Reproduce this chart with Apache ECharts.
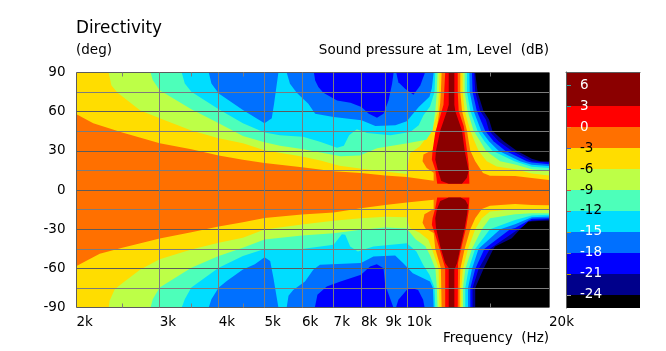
<!DOCTYPE html>
<html>
<head>
<meta charset="utf-8">
<script src="https://cdn.jsdelivr.net/npm/echarts@6/dist/echarts.min.js"></script>
</head>
<body style="margin:0;background:#fff">
<div id="main" style="width:666px;height:351px"></div>
<script type="text/javascript">
// axis values, frequency in kHz and angle in deg
var freqLines = [2, 3, 4, 5, 6, 7, 8, 9, 10, 20];
var freqMinorTicks = [2.5, 3.5, 4.5, 15];
var angleLabels = [-90, -60, -30, 0, 30, 60, 90];
var levelLabels = [6, 3, 0, -3, -6, -9, -12, -15, -18, -21, -24];
var levelEdges = [7.86, 3, 0, -3, -6, -9, -12, -15, -18, -21, -24, -25.86];

// contours, each point is [kHz, deg]
// T/B = upper/lower half, L/R = left/right of the 12k lobe
var below0TL = [[2,58],[2.17,51.1],[2.5,44],[3,35.9],[3.5,31.3],[4,26.4],[4.5,23.1],[5,20.6],[6,17.5],[7,14.3],[8,13],[9,11.2],[10,10],[11.4,7],[11.4,13.2],[11.02,16.9],[10.8,22.1],[10.85,27.2],[11.4,31],[11.53,43.7],[11.68,56.4],[11.77,66.6],[11.81,75],[11.85,90],[2,90]];
var below0TR = [[12.98,90],[12.98,75],[13.09,60.5],[13.41,45.3],[13.52,37.4],[13.63,30],[13.96,22],[14.5,13],[15,10.9],[16.95,10.7],[18.39,9.2],[20,7.6],[20,90]];
var below0BL = [[2,-58.2],[2.24,-48.8],[2.5,-44.2],[3,-37.1],[3.5,-32.3],[4,-28],[4.5,-24.7],[5,-21.4],[6,-18.8],[7,-17.3],[8,-14],[9,-11.5],[10,-9.5],[11.4,-7.5],[11.4,-14.5],[10.9,-18.5],[10.8,-25],[10.95,-29.5],[11.4,-33],[11.49,-45],[11.81,-60],[11.83,-75],[11.85,-90],[2,-90]];
var below0BR = [[12.94,-90],[12.94,-75],[12.98,-60.5],[13.26,-45],[13.63,-30],[13.96,-21.6],[14.42,-14.5],[15,-12],[16.95,-10.7],[18.39,-11.4],[20,-11.7],[20,-90]];

var belowM3TL = [[2.34,90],[2.37,80.3],[2.44,74.7],[2.73,60.8],[3,54.9],[3.5,45.5],[4,39.7],[4.5,35.9],[5,30.5],[6,25.7],[6.6,22.4],[7.2,18.6],[8.35,15.5],[10,12.2],[10.1,23],[10.15,28.2],[10.65,33.3],[11,40],[11.3,45.3],[11.64,60.5],[11.7,75],[11.73,90]];
var belowM3TR = [[13.13,90],[13.13,75],[13.26,60.5],[13.63,45.3],[13.91,37.4],[14.19,30],[14.77,22],[15.5,18],[16.95,15.8],[18.39,12.7],[20,11.2],[20,90]];
var belowM3BL = [[2.34,-90],[2.35,-84.9],[2.41,-76],[2.5,-71.4],[2.73,-60.8],[3,-53.1],[3.5,-45.5],[4,-40.4],[4.5,-36.6],[5,-30.3],[6,-26.4],[7,-23.5],[8,-21.6],[9,-20.5],[10,-20.8],[10.14,-29],[10.65,-32.8],[11.1,-38],[11.3,-45],[11.68,-60],[11.7,-75],[11.73,-90]];
var belowM3BR = [[13.04,-90],[13.04,-75],[13.15,-60.5],[13.48,-45],[13.96,-30],[14.42,-21.6],[15,-16.5],[16.95,-14.5],[20,-15.3],[20,-90]];

var belowM6TL = [[2.87,90],[2.9,84.2],[3,76.5],[3.5,61.8],[4,51.1],[4.5,41.4],[5,36.6],[5.39,33.8],[6,31.5],[7.24,25.8],[7.96,26.5],[8.65,32],[10.03,35.9],[11,38.4],[11.35,46],[11.49,60.5],[11.58,75],[11.62,90]];
var belowM6TR = [[13.26,90],[13.26,75],[13.45,60.5],[13.85,45.3],[14.3,37.4],[14.7,30],[15.77,22],[16.95,19.6],[18.39,15.8],[20,14.8],[20,90]];
var belowM6BL = [[2.87,-90],[2.9,-83.6],[3,-74.7],[3.5,-59.5],[4,-50.6],[4.5,-44.2],[5,-37.9],[6,-34.9],[7,-33.1],[8,-30.5],[9,-28.7],[10,-29.5],[10.45,-38],[10.95,-43],[11.2,-50],[11.5,-60.5],[11.58,-75],[11.62,-90]];
var belowM6BR = [[13.15,-90],[13.15,-75],[13.3,-60.5],[13.74,-45],[14.42,-30],[15,-21.6],[16.95,-18.6],[18.39,-17.8],[20,-17.8],[20,-90]];

var belowM9TL = [[3.34,90],[3.39,81.6],[3.5,75.3],[4,61.8],[4.5,51.1],[5,44],[5.39,42],[6.03,40.7],[6.55,36.9],[7.12,32.3],[7.36,33.8],[7.55,42],[7.84,46.5],[8.24,43.7],[9.23,42],[10.17,44.5],[10.6,49.6],[10.85,57.2],[11.2,64],[11.45,75],[11.49,90]];
var belowM9TR = [[13.41,90],[13.41,75],[13.63,60.5],[14.12,45.3],[14.6,37.4],[15.18,30],[16.9,22],[18.39,17.8],[20,16.8],[20,90]];
var belowM9BL = [[3.34,-90],[3.39,-83.6],[3.5,-74.7],[4,-59.5],[4.5,-50.6],[5,-45.1],[6,-45.1],[7,-42],[7.29,-33.8],[7.41,-34.3],[7.59,-43.3],[7.88,-47.1],[8.5,-43.3],[10,-40.7],[10.48,-47.1],[10.83,-57.3],[11.17,-65],[11.45,-75],[11.49,-90]];
var belowM9BR = [[13.3,-90],[13.3,-75],[13.52,-60.5],[13.96,-45],[15,-30],[16.95,-22.9],[18.39,-19.6],[20,-19],[20,-90]];

var belowM12TA = [[3.81,90],[3.86,81.6],[4,74],[4.5,61.3],[5,51.1],[5.18,54.9],[5.24,66.4],[5.31,81.6],[5.35,90]];
var belowM12TB = [[5.57,90],[5.66,81.4],[5.85,74.5],[6.19,66.1],[6.4,58.5],[7,56],[8.02,53.4],[8.58,49.1],[9.46,49.6],[10,52.6],[10.6,63.6],[11.17,71.4],[11.3,78],[11.4,90]];
var belowM12TR = [[13.57,90],[13.59,75],[13.85,60.5],[14.37,45.3],[14.93,37.4],[15.64,30],[17.37,22],[18.39,19.3],[20,18.3],[20,90]];
var belowM12BA = [[3.81,-90],[3.86,-83.6],[4,-74.7],[4.16,-69.7],[4.5,-60.8],[4.77,-56.9],[5,-51.5],[5.14,-54.4],[5.22,-67.1],[5.35,-90]];
var belowM12BB = [[5.57,-90],[5.62,-81],[5.75,-76.5],[6.09,-70.1],[6.34,-61],[6.55,-57.3],[8,-56],[8.5,-50.9],[9.45,-50.2],[9.82,-56],[10.3,-63.7],[11.2,-70],[11.36,-75],[11.4,-90]];
var belowM12BR = [[13.48,-90],[13.48,-75],[13.74,-60.5],[14.19,-45],[15.77,-30],[16.95,-26.2],[18.39,-20.8],[20,-20.3],[20,-90]];

var belowM15TA = [[6.36,90],[6.4,83.9],[6.5,78.8],[6.66,74.5],[7.12,68.6],[7.6,66.9],[8.02,63.6],[8.31,58.5],[8.65,55.4],[8.93,58.5],[9.15,68.6],[9.31,81.4],[9.38,90]];
var belowM15TB = [[9.5,90],[9.6,82.6],[9.92,77.5],[10.33,73],[10.68,80],[10.93,90]];
var belowM15TR = [[13.74,90],[13.78,75],[14.07,60.5],[14.65,45.3],[15.26,37.4],[16.16,30],[17.94,22],[18.39,21],[20,19.8],[20,90]];
var belowM15BA = [[6.39,-90],[6.47,-80.3],[6.77,-73.9],[7.24,-70.1],[8,-65],[8.36,-58.6],[8.64,-56.8],[8.93,-59.9],[9,-72.6],[9.37,-90]];
var belowM15BB = [[9.49,-90],[9.6,-84.1],[10.05,-75.7],[10.27,-75.2],[10.57,-76.5],[10.83,-84.1],[10.91,-90]];
var belowM15BR = [[13.63,-90],[13.63,-75],[13.96,-60.5],[14.6,-45],[16.55,-30],[16.95,-29.2],[18.39,-22.1],[20,-21.6],[20,-90]];

var belowM18TR = [[13.89,90],[13.96,75],[14.3,60.5],[14.7,54],[14.93,45.3],[15.64,37.4],[16.68,30],[18.39,22],[20,21],[20,90]];
var belowM18BR = [[13.78,-90],[13.78,-75],[14.19,-60.5],[15,-45],[16.95,-31.8],[18.39,-23.4],[20,-22.4],[20,-90]];

var belowM21TR = [[13.96,90],[14.12,75],[14.53,60.5],[14.93,54],[15.18,45.3],[16.03,37.4],[17.09,30],[18.39,23.9],[19.15,22],[20,21.8],[20,90]];
var belowM21BR = [[13.96,-90],[13.96,-75],[14.53,-60.5],[15.26,-45],[15.38,-43.2],[16.68,-36.9],[17.37,-30],[18.09,-24.1],[20,-23.4],[20,-90]];

var above3T = [[12.06,90],[12,75],[11.96,65.3],[11.77,56.4],[11.49,44],[11.34,30],[11.3,23.4],[11.49,15.5],[11.6,4.8],[13.57,4.8],[13.52,20],[13.41,30],[13.2,48.8],[12.88,60.5],[12.82,75],[12.82,90]];
var above3B = [[11.6,-5.8],[11.49,-14],[11.34,-21.6],[11.3,-26.7],[11.49,-34.3],[11.77,-47],[12.06,-59.7],[12.06,-90],[12.82,-90],[12.84,-56],[13.09,-42],[13.35,-29],[13.52,-16.5],[13.57,-5.8]];
var above6T = [[12.27,90],[12.27,65.3],[12.16,60.3],[11.77,45.3],[11.53,30],[11.49,23.4],[11.64,15],[11.83,6.8],[12.27,4.8],[13.09,4.8],[13.41,9.4],[13.52,15],[13.26,30],[13.09,45.3],[12.67,60.3],[12.61,65.3],[12.61,90]];
var above6B = [[12.27,-5.8],[11.77,-8.4],[11.58,-15],[11.49,-21.6],[11.53,-29],[11.77,-43],[12.06,-56],[12.27,-59.7],[12.27,-90],[12.61,-90],[12.61,-61],[12.78,-56],[12.98,-44.5],[13.26,-29.2],[13.41,-19],[13.48,-11.4],[13.3,-7.6],[13,-5.8]];

var levelColors = ['#8B0000', '#FF0000', '#FF7000', '#FFDD00', '#BDFF47', '#4DFFBA', '#00DDFF', '#0070FF', '#0000FF', '#00008B', '#000000'];
var tickColors = ['#2E9C9C', '#2E9C9C', '#E08A3C', '#4060C0', '#4060C0', '#E05030', '#B06050', '#B0A030', '#909070', '#B09000', '#A0A0A0'];
var gridDark = '#5c5c5c';
var gridLight = '#7c7c7c';

// painted from the outer contour inwards, the plot background is the 0..3 band
var layers = [
    [below0TL, levelColors[3]], [below0TR, levelColors[3]], [below0BL, levelColors[3]], [below0BR, levelColors[3]],
    [belowM3TL, levelColors[4]], [belowM3TR, levelColors[4]], [belowM3BL, levelColors[4]], [belowM3BR, levelColors[4]],
    [belowM6TL, levelColors[5]], [belowM6TR, levelColors[5]], [belowM6BL, levelColors[5]], [belowM6BR, levelColors[5]],
    [belowM9TL, levelColors[6]], [belowM9TR, levelColors[6]], [belowM9BL, levelColors[6]], [belowM9BR, levelColors[6]],
    [belowM12TA, levelColors[7]], [belowM12TB, levelColors[7]], [belowM12TR, levelColors[7]],
    [belowM12BA, levelColors[7]], [belowM12BB, levelColors[7]], [belowM12BR, levelColors[7]],
    [belowM15TA, levelColors[8]], [belowM15TB, levelColors[8]], [belowM15TR, levelColors[8]],
    [belowM15BA, levelColors[8]], [belowM15BB, levelColors[8]], [belowM15BR, levelColors[8]],
    [belowM18TR, levelColors[9]], [belowM18BR, levelColors[9]],
    [belowM21TR, levelColors[10]], [belowM21BR, levelColors[10]],
    [above3T, levelColors[1]], [above3B, levelColors[1]],
    [above6T, levelColors[0]], [above6B, levelColors[0]]
];

function contourSeries(points, color) {
    return {
        type: 'custom',
        xAxisIndex: 0,
        yAxisIndex: 0,
        silent: true,
        clip: true,
        data: points,
        encode: {x: 0, y: 1},
        renderItem: function (params, api) {
            if (params.dataIndex !== 0) {
                return;
            }
            return {
                type: 'polygon',
                shape: {points: points.map(function (p) { return api.coord(p); })},
                style: {fill: color}
            };
        }
    };
}

var colorbarData = levelColors.map(function (c, i) {
    return [levelEdges[i], levelEdges[i + 1]];
});
var font = 'DejaVu Sans';
var textStyle = {fontFamily: font, fontSize: 13.5, fontWeight: 'normal', color: '#000'};

var series = layers.map(function (l) { return contourSeries(l[0], l[1]); });
series.push({
    type: 'custom',
    xAxisIndex: 3,
    yAxisIndex: 1,
    silent: true,
    data: colorbarData,
    encode: {y: [0, 1]},
    renderItem: function (params, api) {
        var top = api.coord([0, api.value(0)]);
        var bottom = api.coord([0, api.value(1)]);
        return {
            type: 'rect',
            shape: {x: params.coordSys.x, y: top[1], width: params.coordSys.width, height: bottom[1] - top[1]},
            style: {fill: levelColors[params.dataIndex]}
        };
    }
});
series.push({
    type: 'custom',
    xAxisIndex: 3,
    yAxisIndex: 1,
    silent: true,
    z: 3,
    data: levelLabels,
    encode: {y: 0},
    renderItem: function (params, api) {
        var y = Math.round(api.coord([0, api.value(0)])[1]) + 0.5;
        return {
            type: 'line',
            shape: {x1: params.coordSys.x, y1: y, x2: params.coordSys.x + 5, y2: y},
            style: {stroke: tickColors[params.dataIndex], lineWidth: 1}
        };
    }
});

var myChart = echarts.init(document.getElementById('main'), null, {renderer: 'canvas'});
var option = {
    animation: false,
    backgroundColor: '#fff',
    title: [
        {text: 'Directivity', left: 76, top: 20, padding: 0, textStyle: {fontFamily: font, fontSize: 16.8, fontWeight: 'normal', color: '#000'}},
        {text: '(deg)', left: 76, top: 43, padding: 0, textStyle: textStyle},
        {text: 'Sound pressure at 1m, Level  (dB)', right: 117, top: 43, padding: 0, textStyle: textStyle},
        {text: 'Frequency  (Hz)', right: 117, top: 331, padding: 0, textStyle: textStyle}
    ],
    grid: [
        {left: 76.5, top: 72.5, width: 472.5, height: 235, show: true, backgroundColor: levelColors[2], borderWidth: 0},
        {left: 566, top: 72, width: 74, height: 236, show: false}
    ],
    xAxis: [
        {
            type: 'log', gridIndex: 0, logBase: 10, min: 2, max: 20, z: 5,
            axisLine: {show: false},
            axisTick: {show: false, customValues: freqLines},
            axisLabel: {
                customValues: freqLines, align: 'left', margin: 8, color: '#000',
                fontFamily: font, fontSize: 13.5,
                formatter: function (v) { return Math.round(v) + 'k'; }
            },
            splitLine: {show: true, lineStyle: {color: [gridDark, gridLight, gridLight, gridLight, gridLight, gridLight, gridLight, gridLight, gridLight, gridDark], width: 1}}
        },
        {
            type: 'log', gridIndex: 0, logBase: 10, min: 2, max: 20, z: 5, position: 'bottom',
            axisLine: {show: false},
            axisTick: {show: true, inside: true, length: 4, customValues: freqMinorTicks, lineStyle: {color: gridLight}},
            axisLabel: {show: false},
            splitLine: {show: false}
        },
        {
            type: 'log', gridIndex: 0, logBase: 10, min: 2, max: 20, z: 5, position: 'top',
            axisLine: {show: false},
            axisTick: {show: true, inside: true, length: 4, customValues: freqMinorTicks, lineStyle: {color: gridLight}},
            axisLabel: {show: false},
            splitLine: {show: false}
        },
        {
            type: 'value', gridIndex: 1, min: 0, max: 1, position: 'top', z: 5,
            axisLine: {show: true, onZero: false, lineStyle: {color: gridDark}},
            axisTick: {show: false}, axisLabel: {show: false}, splitLine: {show: false}
        }
    ],
    yAxis: [
        {
            type: 'value', gridIndex: 0, min: -90, max: 90, interval: 15, z: 5,
            axisLine: {show: false},
            axisTick: {show: false},
            axisLabel: {customValues: angleLabels, margin: 11, color: '#000', fontFamily: font, fontSize: 13.5},
            splitLine: {show: true, lineStyle: {color: [gridDark, gridLight], width: 1}}
        },
        {
            type: 'value', gridIndex: 1, min: -25.86, max: 7.86, z: 5,
            axisLine: {show: true, onZero: false, lineStyle: {color: gridDark}},
            axisTick: {show: false},
            axisLabel: {
                customValues: levelLabels, inside: true, margin: 14, align: 'left', fontFamily: font, fontSize: 13.5,
                color: function (v) { return (v >= 0 || v <= -15) ? '#fff' : '#000'; }
            },
            splitLine: {show: false}
        }
    ],
    series: series
};
myChart.setOption(option);
</script>
</body>
</html>
